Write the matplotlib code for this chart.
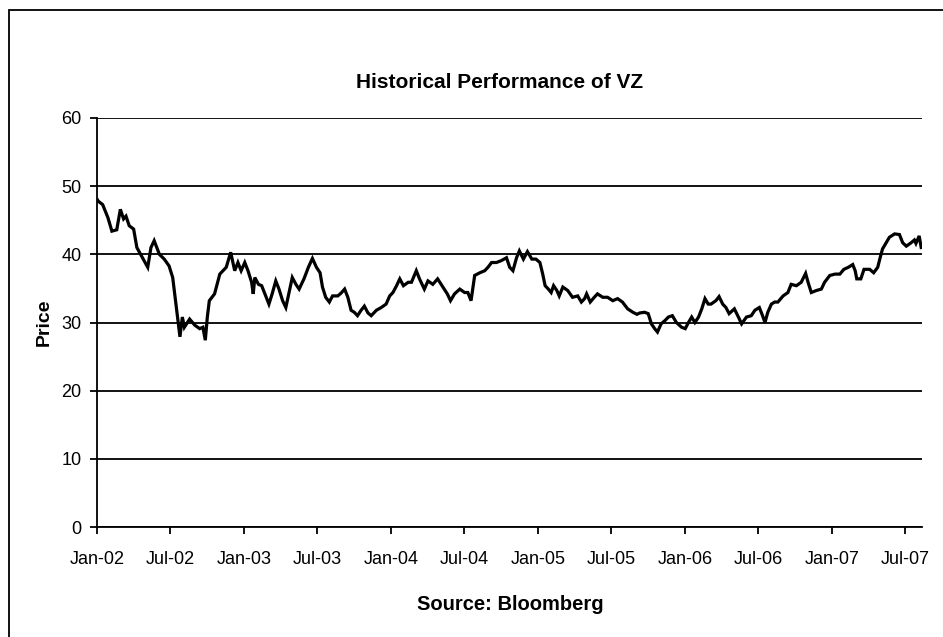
import matplotlib
matplotlib.use("Agg")
import matplotlib.pyplot as plt
from matplotlib.patches import Rectangle
import pandas as pd
from matplotlib import font_manager

dates = [
    "2002-01-02", "2002-01-04", "2002-01-15", "2002-01-28", "2002-02-07", "2002-02-19", "2002-02-28",
    "2002-03-08", "2002-03-14", "2002-03-22", "2002-04-02", "2002-04-10", "2002-04-24", "2002-05-07",
    "2002-05-15", "2002-05-23", "2002-06-05", "2002-06-17", "2002-06-29", "2002-07-08", "2002-07-16",
    "2002-07-22", "2002-07-26", "2002-08-01", "2002-08-06", "2002-08-19", "2002-09-01", "2002-09-13",
    "2002-09-21", "2002-09-27", "2002-10-02", "2002-10-07", "2002-10-20", "2002-11-02", "2002-11-18",
    "2002-11-29", "2002-12-09", "2002-12-17", "2002-12-25", "2003-01-03", "2003-01-11", "2003-01-20",
    "2003-01-24", "2003-01-28", "2003-02-06", "2003-02-14", "2003-02-22", "2003-03-04", "2003-03-12",
    "2003-03-21", "2003-03-29", "2003-04-07", "2003-04-15", "2003-04-23", "2003-05-01", "2003-05-10",
    "2003-05-18", "2003-05-30", "2003-06-10", "2003-06-20", "2003-06-30", "2003-07-09", "2003-07-15",
    "2003-07-23", "2003-08-01", "2003-08-09", "2003-08-22", "2003-08-30", "2003-09-08", "2003-09-16",
    "2003-09-24", "2003-10-02", "2003-10-10", "2003-10-19", "2003-10-27", "2003-11-05", "2003-11-13",
    "2003-11-26", "2003-12-08", "2003-12-20", "2003-12-29", "2004-01-06", "2004-01-15", "2004-01-23",
    "2004-02-01", "2004-02-13", "2004-02-21", "2004-03-04", "2004-03-12", "2004-03-24", "2004-04-02",
    "2004-04-14", "2004-04-26", "2004-05-09", "2004-05-20", "2004-05-28", "2004-06-07", "2004-06-20",
    "2004-07-02", "2004-07-10", "2004-07-18", "2004-07-27", "2004-08-09", "2004-08-21", "2004-08-29",
    "2004-09-07", "2004-09-19", "2004-10-02", "2004-10-14", "2004-10-22", "2004-10-30", "2004-11-08",
    "2004-11-15", "2004-11-25", "2004-12-05", "2004-12-16", "2004-12-26", "2005-01-05", "2005-01-12",
    "2005-01-18", "2005-01-26", "2005-02-02", "2005-02-08", "2005-02-16", "2005-02-22", "2005-03-03",
    "2005-03-15", "2005-03-27", "2005-04-09", "2005-04-18", "2005-04-26", "2005-05-01", "2005-05-10",
    "2005-05-20", "2005-05-28", "2005-06-10", "2005-06-22", "2005-07-05", "2005-07-17", "2005-07-29",
    "2005-08-11", "2005-08-24", "2005-09-03", "2005-09-10", "2005-09-22", "2005-10-01", "2005-10-09",
    "2005-10-17", "2005-10-24", "2005-11-02", "2005-11-12", "2005-11-20", "2005-11-30", "2005-12-10",
    "2005-12-23", "2006-01-01", "2006-01-09", "2006-01-17", "2006-01-25", "2006-02-03", "2006-02-11",
    "2006-02-19", "2006-02-27", "2006-03-06", "2006-03-18", "2006-03-26", "2006-04-04", "2006-04-12",
    "2006-04-20", "2006-05-03", "2006-05-13", "2006-05-21", "2006-06-02", "2006-06-14", "2006-06-23",
    "2006-07-04", "2006-07-12", "2006-07-18", "2006-07-25", "2006-08-03", "2006-08-11", "2006-08-19",
    "2006-09-01", "2006-09-13", "2006-09-21", "2006-10-04", "2006-10-16", "2006-10-27", "2006-11-02",
    "2006-11-10", "2006-11-23", "2006-12-05", "2006-12-13", "2006-12-26", "2007-01-08", "2007-01-20",
    "2007-01-30", "2007-02-10", "2007-02-21", "2007-02-27", "2007-03-03", "2007-03-13", "2007-03-21",
    "2007-04-04", "2007-04-14", "2007-04-24", "2007-04-30", "2007-05-06", "2007-05-15", "2007-05-23",
    "2007-06-05", "2007-06-17", "2007-06-25", "2007-07-04", "2007-07-16", "2007-07-24", "2007-07-28",
    "2007-08-05", "2007-08-10",
]
prices = [
    48.0, 47.8, 47.3, 45.4, 43.4, 43.6, 46.6,
    45.2, 45.6, 44.2, 43.7, 41.0, 39.5, 38.1,
    41.0, 42.0, 40.0, 39.3, 38.3, 36.6, 32.7,
    29.8, 27.9, 30.8, 29.3, 30.5, 29.6, 29.1,
    29.3, 27.4, 30.8, 33.2, 34.2, 37.1, 38.1,
    40.3, 37.6, 38.8, 37.6, 38.8, 37.6, 35.9,
    34.2, 36.6, 35.6, 35.4, 34.2, 32.7, 34.2,
    36.1, 34.9, 33.2, 32.2, 34.4, 36.6, 35.6,
    34.9, 36.4, 38.1, 39.4, 38.1, 37.3, 35.2,
    33.7, 33.0, 33.9, 33.9, 34.3, 34.9, 33.7,
    31.8, 31.5, 31.0, 31.8, 32.4, 31.4, 31.0,
    31.8, 32.2, 32.7, 33.9, 34.4, 35.4, 36.4,
    35.4, 35.9, 35.9, 37.6, 36.4, 34.9, 36.1,
    35.6, 36.4, 35.2, 34.2, 33.2, 34.2, 34.9,
    34.4, 34.4, 33.2, 36.9, 37.3, 37.6, 38.1,
    38.8, 38.8, 39.1, 39.5, 38.1, 37.6, 39.5,
    40.5, 39.3, 40.4, 39.3, 39.3, 38.8, 37.1,
    35.4, 34.9, 34.4, 35.4, 34.7, 33.9, 35.2,
    34.7, 33.7, 33.9, 33.0, 33.5, 34.2, 33.0,
    33.7, 34.2, 33.7, 33.7, 33.2, 33.5, 33.0,
    32.0, 31.5, 31.2, 31.4, 31.5, 31.3, 29.8,
    29.1, 28.6, 29.8, 30.3, 30.8, 31.0, 30.0,
    29.3, 29.1, 30.0, 30.8, 30.0, 30.8, 32.0,
    33.5, 32.7, 32.7, 33.2, 33.8, 32.7, 32.2,
    31.3, 32.0, 30.8, 29.8, 30.8, 31.0, 31.8,
    32.2, 31.0, 30.0, 31.5, 32.7, 33.0, 33.0,
    33.9, 34.4, 35.6, 35.4, 35.9, 37.2, 35.9,
    34.4, 34.7, 34.9, 35.9, 36.9, 37.1, 37.1,
    37.8, 38.1, 38.5, 37.6, 36.4, 36.4, 37.8,
    37.8, 37.3, 38.1, 39.5, 40.8, 41.7, 42.5,
    43.0, 42.9, 41.7, 41.2, 41.7, 42.1, 41.6,
    42.7, 41.0,
]

tick_dates = ["2002-01-01", "2002-07-01", "2003-01-01", "2003-07-01", "2004-01-01", "2004-07-01",
              "2005-01-01", "2005-07-01", "2006-01-01", "2006-07-01", "2007-01-01", "2007-07-01"]
tick_labels = ["Jan-02", "Jul-02", "Jan-03", "Jul-03", "Jan-04", "Jul-04",
               "Jan-05", "Jul-05", "Jan-06", "Jul-06", "Jan-07", "Jul-07"]
y_ticks = [0, 10, 20, 30, 40, 50, 60]

names = {f.name for f in font_manager.fontManager.ttflist}
fam = "Liberation Sans Narrow" if "Liberation Sans Narrow" in names else "Liberation Sans"
plt.rcParams["font.family"] = [fam, "DejaVu Sans"]

W, H = 943, 637
fig = plt.figure(figsize=(W / 100, H / 100), dpi=100)
ax = fig.add_axes([97 / W, 1 - 527 / H, (922 - 97) / W, (527 - 118) / H])

x = pd.to_datetime(dates)
ax.plot(x, prices, color="black", lw=2.3, solid_joinstyle="miter")

ax.set_ylim(0, 60)
ax.set_yticks(y_ticks)
ax.set_xlim(pd.Timestamp("2002-01-01"), pd.Timestamp("2007-08-12"))
ax.set_xticks(pd.to_datetime(tick_dates))
ax.set_xticklabels(tick_labels)
ax.yaxis.grid(True, color="black", lw=1.3)
ax.set_axisbelow(True)

for s in ["top", "right"]:
    ax.spines[s].set_visible(False)
for s in ["left", "bottom"]:
    ax.spines[s].set_color("black")
    ax.spines[s].set_linewidth(1.3)
ax.tick_params(axis="both", direction="out", length=5, width=1.3, colors="black", labelsize=13)
ax.tick_params(axis="x", pad=12)
ax.tick_params(axis="y", pad=6)

fig.text(500 / W, 1 - 82 / H, "Historical Performance of VZ", ha="center", va="center",
         fontsize=15, fontweight="bold")
fig.text(44 / W, 1 - 322 / H, "Price", ha="center", va="center", rotation=90,
         fontsize=14, fontweight="bold")
fig.text(510 / W, 1 - 605 / H, "Source: Bloomberg", ha="center", va="center",
         fontsize=14.5, fontweight="bold")

fig.add_artist(Rectangle((9 / W, -0.2), 1.5, 1.2 - 10 / H, transform=fig.transFigure,
                         fill=False, edgecolor="black", lw=1.3))

fig.savefig("out.png", dpi=100)
